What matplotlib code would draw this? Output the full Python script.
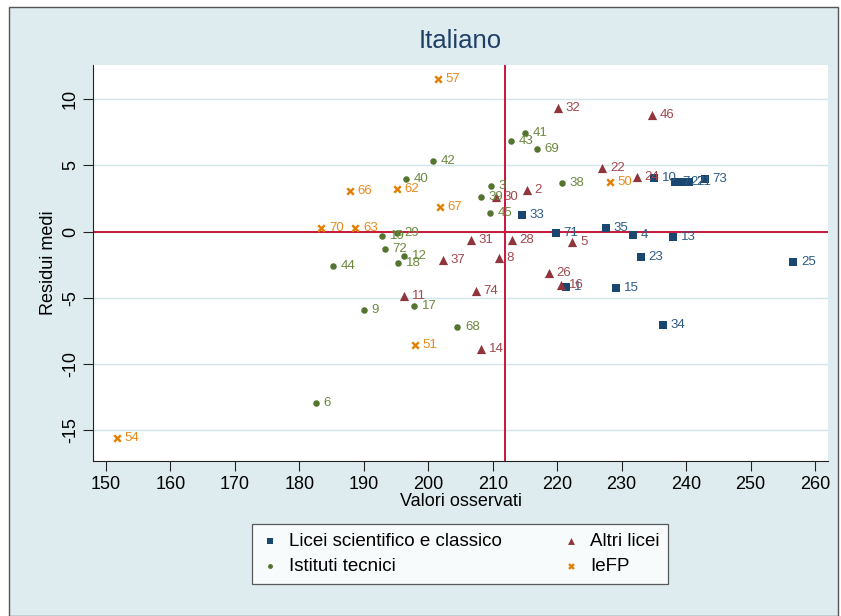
import numpy as np
import matplotlib
matplotlib.use("Agg")
import matplotlib.pyplot as plt
from matplotlib.patches import Rectangle

plt.rcParams['font.family'] = ['Liberation Sans', 'DejaVu Sans']

# Licei scientifico e classico
lsc_x = [214.5, 219.8, 227.6, 231.8, 238.0, 233.0, 256.6, 229.1, 221.4, 236.4,
         235.0, 238.2, 239.5, 240.4, 242.9]
lsc_y = [1.26, -0.1, 0.28, -0.25, -0.4, -1.9, -2.3, -4.25, -4.2, -7.05,
         4.05, 3.72, 3.72, 3.72, 3.95]
lsc_id = ['33', '71', '35', '4', '13', '23', '25', '15', '1', '34',
          '10', '7', '27', '21', '73']

# Altri licei
alt_x = [220.1, 234.7, 227.0, 232.4, 215.3, 210.5, 206.6, 213.0, 222.35, 202.3,
         210.9, 218.7, 220.6, 196.3, 207.4, 208.2]
alt_y = [9.33, 8.8, 4.8, 4.13, 3.14, 2.62, -0.63, -0.63, -0.8, -2.13,
         -2.0, -3.14, -4.0, -4.83, -4.47, -8.85]
alt_id = ['32', '46', '22', '24', '2', '30', '31', '28', '5', '37',
          '8', '26', '16', '11', '74', '14']

# Istituti tecnici
tec_x = [215.0, 212.9, 216.9, 200.8, 196.6, 209.7, 208.2, 209.6, 220.7, 192.9,
         195.1, 193.3, 196.3, 195.3, 185.2, 190.0, 197.8, 204.5, 182.6]
tec_y = [7.4, 6.82, 6.21, 5.35, 3.95, 3.42, 2.64, 1.39, 3.65, -0.3,
         -0.12, -1.33, -1.83, -2.34, -2.56, -5.9, -5.58, -7.21, -12.9]
tec_id = ['41', '43', '69', '42', '40', '3', '39', '45', '38', '19',
          '29', '72', '12', '18', '44', '9', '17', '68', '6']

# IeFP
iefp_x = [201.5, 187.8, 195.1, 201.8, 183.4, 188.7, 228.2, 197.9, 151.7]
iefp_y = [11.49, 3.07, 3.22, 1.89, 0.3, 0.3, 3.72, -8.52, -15.56]
iefp_id = ['57', '66', '62', '67', '70', '63', '50', '51', '54']

x_ref = 211.9
bg = '#dfecef'
grid_c = '#d3e4ea'

fig = plt.figure(figsize=(8.41, 6.16), dpi=100, facecolor='white')
fig.patches.append(Rectangle((9/841, 0), 829/841, 1 - 7/616, transform=fig.transFigure,
                             facecolor=bg, edgecolor='#555555', lw=1.0, zorder=-10))
ax = fig.add_axes([93/841, 1 - 461/616, 735/841, 396/616])
ax.set_facecolor('white')

# data, marker colour, label colour, marker, size, legend name
groups = [
    (lsc_x, lsc_y, lsc_id, '#1a476f', '#2d5a84', 's', 36, 'Licei scientifico e classico'),
    (tec_x, tec_y, tec_id, '#55752f', '#6c8840', 'o', 22, 'Istituti tecnici'),
    (alt_x, alt_y, alt_id, '#90353b', '#a1474d', '^', 44, 'Altri licei'),
    (iefp_x, iefp_y, iefp_id, '#e37e00', '#ea8a1a', 'x', 22, 'IeFP'),
]

ax.axhline(0, color='#c8173a', lw=1.4, zorder=2)
ax.axvline(x_ref, color='#c8173a', lw=1.4, zorder=2)

for xs, ys, ids, col, tcol, mk, sz, name in groups:
    if mk == 'x':
        ax.scatter(xs, ys, s=sz, marker=mk, color=col, linewidths=1.7, label=name, zorder=3)
    else:
        ax.scatter(xs, ys, s=sz, marker=mk, color=col, linewidths=0, label=name, zorder=3)
    for x, y, t in zip(xs, ys, ids):
        ax.annotate(t, (x, y), xytext=(5.5, 0), textcoords='offset points',
                    va='center', ha='left', fontsize=9.5, color=tcol, zorder=4)

ax.set_xlim(148.0, 262.0)
ax.set_ylim(-17.3, 12.56)
ax.set_xticks(np.arange(150, 261, 10))
ax.set_yticks([-15, -10, -5, 0, 5, 10])
ax.set_yticklabels(['-15', '-10', '-5', '0', '5', '10'], rotation=90, va='center')
ax.grid(axis='y', color=grid_c, lw=1.0, zorder=0)
ax.set_axisbelow(True)
ax.tick_params(direction='out', length=7, width=0.8, labelsize=13, color='#222222')
ax.tick_params(axis='y', pad=3)
for s in ['top', 'right']:
    ax.spines[s].set_visible(False)
for s in ['left', 'bottom']:
    ax.spines[s].set_color('#222222')
    ax.spines[s].set_linewidth(0.8)

ax.set_xlabel('Valori osservati', fontsize=13, labelpad=0)
ax.set_ylabel('Residui medi', fontsize=13, labelpad=4)
ax.set_title('Italiano', fontsize=18.5, color='#1e3f66', pad=12)

leg = fig.legend(loc='center', bbox_to_anchor=(460/841, 1 - 554/616), ncol=2,
                 fontsize=13.5, frameon=True, fancybox=False, edgecolor='#333333',
                 handletextpad=0.5, columnspacing=3.2, markerscale=0.75,
                 borderpad=0.45, labelspacing=0.45, handlelength=1.0)
leg.get_frame().set_linewidth(0.9)

fig.savefig('out.png', dpi=100, facecolor=fig.get_facecolor())
